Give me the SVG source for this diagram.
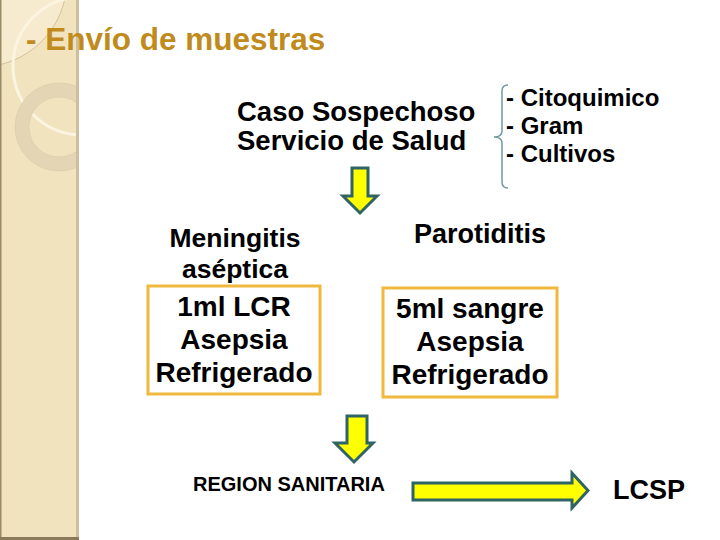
<svg xmlns="http://www.w3.org/2000/svg" width="720" height="540" viewBox="0 0 720 540">
  <style>
    .t { font-family: "Liberation Sans", Arial, sans-serif; font-weight: bold; fill: #000; }
    .c { text-anchor: middle; }
    .box { fill: none; stroke: #F0B83C; stroke-width: 3; }
    .arr { fill: #FFFF00; stroke: #2F6464; stroke-width: 3; stroke-linejoin: miter; }
  </style>
  <defs>
    <clipPath id="side"><rect x="0" y="0" width="77" height="540"/></clipPath>
  </defs>
  <rect x="0" y="0" width="720" height="540" fill="#FFFFFF"/>

  <g id="sidebar">
    <rect x="0" y="0" width="77" height="540" fill="#F2E3BF"/>
    <g clip-path="url(#side)">
      <circle cx="-20" cy="-20" r="87" fill="#F6EBCF" stroke="#C9B993" stroke-width="0.8"/>
      <circle cx="82" cy="66" r="69" fill="none" stroke="#FBF4E0" stroke-width="3"/>
      <circle cx="59" cy="127" r="37" fill="none" stroke="#E4D6B4" stroke-width="14"/>
      <circle cx="59" cy="127" r="44" fill="none" stroke="#D8CAA6" stroke-width="0.6"/>
      <circle cx="59" cy="127" r="30" fill="none" stroke="#D8CAA6" stroke-width="0.6"/>
    </g>
    <rect x="76" y="0" width="3" height="540" fill="#CDBF9E"/>
    <rect x="0" y="0" width="1.5" height="540" fill="#9A8A66"/>
    <rect x="0" y="537" width="79" height="3" fill="#8A7A5A"/>
  </g>

  <g id="title">
    <text class="t" x="26" y="50" font-size="31.5" style="fill:#C08B1C">- Envío de muestras</text>
  </g>

  <g id="caso">
    <text class="t" x="237" y="121" font-size="27.5">Caso Sospechoso</text>
    <text class="t" x="237" y="150" font-size="27.5">Servicio de Salud</text>
  </g>

  <g id="analisis">
    <path d="M508,85 Q502,85 502,91 L502,131 Q502,137 494,137 Q502,137 502,143 L502,182 Q502,188 508,188" fill="none" stroke="#6E9C9C" stroke-width="1.5"/>
    <text class="t" x="506" y="106" font-size="24">- Citoquimico</text>
    <text class="t" x="506" y="134" font-size="24">- Gram</text>
    <text class="t" x="506" y="162" font-size="24">- Cultivos</text>
  </g>

  <g id="meningitis">
    <text class="t c" x="235" y="247" font-size="26.5">Meningitis</text>
    <text class="t c" x="235" y="278" font-size="26.5">aséptica</text>
    <rect class="box" x="148" y="286" width="172" height="108"/>
    <text class="t c" x="234" y="316" font-size="28">1ml LCR</text>
    <text class="t c" x="234" y="349" font-size="28">Asepsia</text>
    <text class="t c" x="234" y="382" font-size="28">Refrigerado</text>
  </g>

  <g id="parotiditis">
    <text class="t c" x="480" y="243" font-size="27">Parotiditis</text>
    <rect class="box" x="383" y="288" width="174" height="109"/>
    <text class="t c" x="470" y="318" font-size="28">5ml sangre</text>
    <text class="t c" x="470" y="351" font-size="28">Asepsia</text>
    <text class="t c" x="470" y="384" font-size="28">Refrigerado</text>
  </g>

  <g id="region">
    <text class="t" x="193" y="491" font-size="20">REGION SANITARIA</text>
  </g>

  <g id="lcsp">
    <text class="t" x="613" y="499" font-size="27">LCSP</text>
  </g>

  <g id="connectors">
    <polygon class="arr" points="352,168 368,168 368,196 377,196 360,213 343,196 352,196"/>
    <polygon class="arr" points="347,416 367,416 367,443 373,443 354,462 335,443 347,443"/>
    <polygon class="arr" points="413,483 572,483 572,473 588,490.5 572,508 572,500 413,500"/>
  </g>
</svg>
